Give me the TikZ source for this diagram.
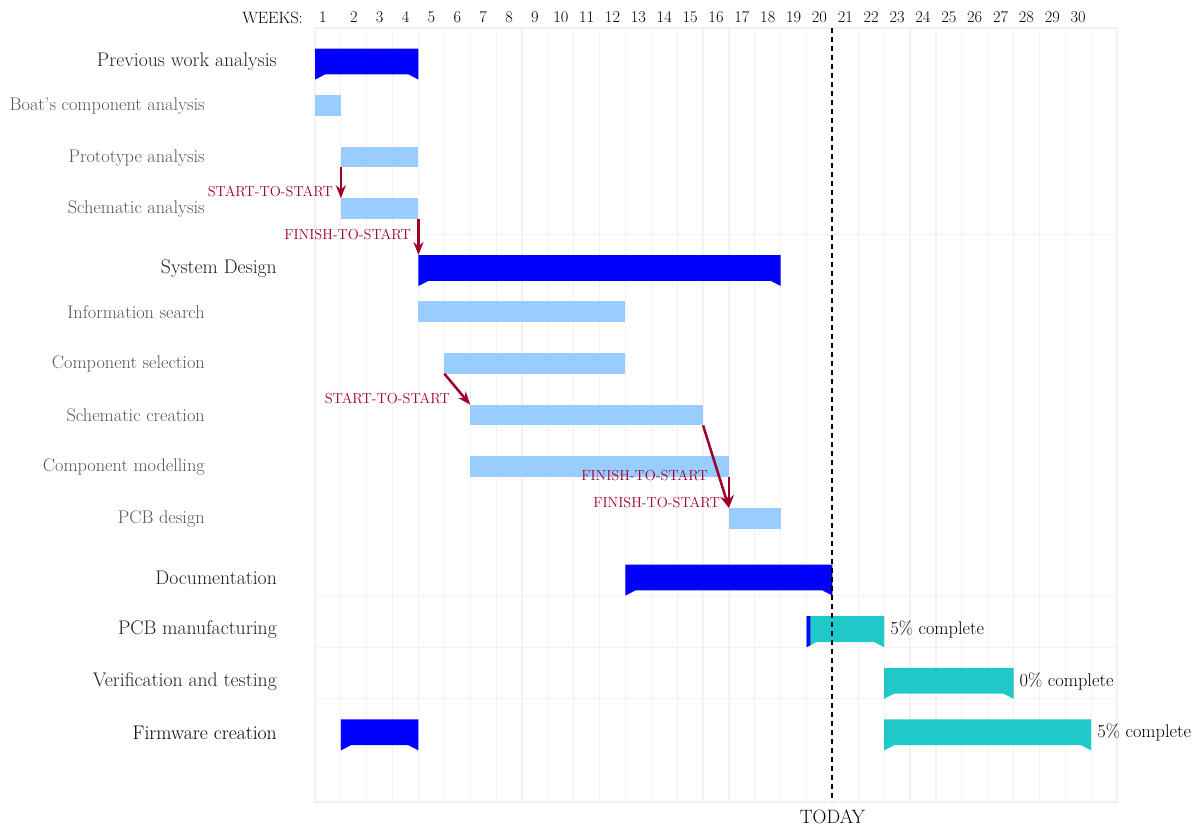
\documentclass[tikz,border=0pt]{standalone}
\usepackage{fontspec}
\usetikzlibrary{arrows.meta}
\definecolor{grpc}{RGB}{0,0,255}
\definecolor{elemc}{RGB}{153,204,255}
\definecolor{tealc}{RGB}{31,201,201}
\definecolor{linkc}{RGB}{160,0,40}
\definecolor{gridc}{RGB}{242,242,242}
\definecolor{elabc}{RGB}{85,85,85}
\definecolor{glabc}{RGB}{30,30,30}
\def\xo{315}
\def\yo{28}
\def\cw{25.871}
\def\rh{51.6}
\newcommand\myebar[4]{% name, start week, end week, row
  \node[ebar, anchor=north west, minimum width={(#3-#2+1)*\cw}] (#1) at ({\xo+(#2-1)*\cw},{\yo+(#4+0.3)*\rh}) {};}
\newcommand\mygbar[5]{% name, start week, end week, row, colour
  \pgfmathsetmacro\gx{\xo+(#2-1)*\cw}
  \pgfmathsetmacro\gX{\xo+(#3)*\cw}
  \pgfmathsetmacro\gy{\yo+(#4+0.4)*\rh}
  \pgfmathsetmacro\gb{\yo+(#4+0.9)*\rh}
  \pgfmathsetmacro\gp{\yo+(#4+1.0)*\rh}
  \fill[#5] (\gx,\gy) -- (\gX,\gy) -- (\gX,\gp) -- ({\gX-10},\gb) -- ({\gx+10},\gb) -- (\gx,\gp) -- cycle;
  \node[inner sep=0, outer sep=0, anchor=north west, minimum width={(#3-#2+1)*\cw}, minimum height={0.5*\rh}] (#1) at (\gx,\gy) {};}
\tikzset{
  ebar/.style={fill=elemc, inner sep=0, outer sep=0, minimum height={0.4*\rh}},
  glab/.style={anchor=east, inner sep=0, text=glabc, font=\fontsize{19.7}{22}\selectfont},
  elab/.style={anchor=east, inner sep=0, text=elabc, font=\fontsize{18.3}{20}\selectfont},
  hdr/.style={inner sep=0, font=\fontsize{16.4}{18}\selectfont},
  linklab/.style={anchor=east, inner sep=0, text=linkc, font=\fontsize{14.5}{16}\selectfont},
  link/.style={draw=linkc, line width=2.5pt, -{Stealth[length=13pt,width=10pt]}},
  pct/.style={anchor=west, inner sep=0, font=\fontsize{18.4}{20}\selectfont},
  gridline/.style={draw=gridc, line width=1.2pt},
}
\begin{document}
\begin{tikzpicture}[x=1pt,y=-1pt]
\useasboundingbox (0,0) rectangle (1197,827);
% grid
\foreach \k in {0,...,31} \draw[gridline] ({\xo+\k*\cw},28) -- ({\xo+\k*\cw},802);
\foreach \r in {0,4,11,12,13,15} \draw[gridline] (\xo,{\yo+\r*\rh}) -- ({\xo+31*\cw},{\yo+\r*\rh});
% header
\node[hdr, anchor=east] (weeks) at (303,17.5) {WEEKS:};
\node[hdr] (w1) at (323,17.5) {1};
\foreach \i in {2,...,30} \node[hdr] (w\i) at ({\xo+(\i-0.5)*\cw},17.5) {\i};
% labels
\node[glab] (l0) at (277,{\yo+0.66*\rh}) {Previous work analysis};
\node[elab] (l1) at (205,{\yo+1.51*\rh}) {Boat’s component analysis};
\node[elab] (l2) at (205,{\yo+2.51*\rh}) {Prototype analysis};
\node[elab] (l3) at (205,{\yo+3.51*\rh}) {Schematic analysis};
\node[glab] (l4) at (277,{\yo+4.66*\rh}) {System Design};
\node[elab] (l5) at (205,{\yo+5.51*\rh}) {Information search};
\node[elab] (l6) at (205,{\yo+6.51*\rh}) {Component selection};
\node[elab] (l7) at (205,{\yo+7.51*\rh}) {Schematic creation};
\node[elab] (l8) at (205,{\yo+8.51*\rh}) {Component modelling};
\node[elab] (l9) at (205,{\yo+9.51*\rh}) {PCB design};
\node[glab] (l10) at (277,{\yo+10.66*\rh}) {Documentation};
\node[glab] (l11) at (277,{\yo+11.66*\rh}) {PCB manufacturing};
\node[glab] (l12) at (277,{\yo+12.66*\rh}) {Verification and testing};
\node[glab, text=black] (l13) at (277,{\yo+13.66*\rh}) {Firmware creation};
% bars
\mygbar{prev}{1}{4}{0}{grpc}
\myebar{boat}{1}{1}{1}
\myebar{proto}{2}{4}{2}
\myebar{schan}{2}{4}{3}
\mygbar{sysd}{5}{18}{4}{grpc}
\myebar{info}{5}{12}{5}
\myebar{compsel}{6}{12}{6}
\myebar{schcr}{7}{15}{7}
\myebar{compmod}{7}{16}{8}
\myebar{pcbd}{17}{18}{9}
\mygbar{doc}{13}{20}{10}{grpc}
\mygbar{pcbm}{20}{22}{11}{tealc}
\begin{scope}
  \clip ({\xo+19*\cw},0) rectangle ({\xo+19*\cw+3.9},827);
  \mygbar{pcbmprog}{20}{22}{11}{grpc}
\end{scope}
\mygbar{verif}{23}{27}{12}{tealc}
\mygbar{fwa}{2}{4}{13}{grpc}
\mygbar{fwb}{23}{30}{13}{tealc}
% percentages
\node[pct] (p1) at ({\xo+22*\cw+6},{\yo+11.66*\rh}) {5\% complete};
\node[pct] (p2) at ({\xo+27*\cw+6},{\yo+12.66*\rh}) {0\% complete};
\node[pct] (p3) at ({\xo+30*\cw+6},{\yo+13.66*\rh}) {5\% complete};
% links
\draw[link] (proto.south west) -- (schan.north west);
\node[linklab] (k1) at (333,191.5) {START-TO-START};
\draw[link] (schan.south east) -- (sysd.north west);
\node[linklab] (k2) at (411,234.5) {FINISH-TO-START};
\draw[link] (compsel.south west) -- (schcr.north west);
\node[linklab] (k3) at (450,398.5) {START-TO-START};
\draw[link] (schcr.south east) -- (pcbd.north west);
\node[linklab] (k4) at (720,502.5) {FINISH-TO-START};
\draw[link] (compmod.south east) -- (pcbd.north west);
\node[linklab] (k5) at (708,475.5) {FINISH-TO-START};
% today
\coordinate (t0) at ({\xo+20*\cw},28);
\coordinate (t1) at ({\xo+20*\cw},802);
\draw[line width=2pt, dash pattern=on 5pt off 4pt] (t0) -- (t1);
\node[inner sep=0, font=\fontsize{19.3}{21}\selectfont] (today) at ({\xo+20*\cw},817) {TODAY};
\end{tikzpicture}
\end{document}
